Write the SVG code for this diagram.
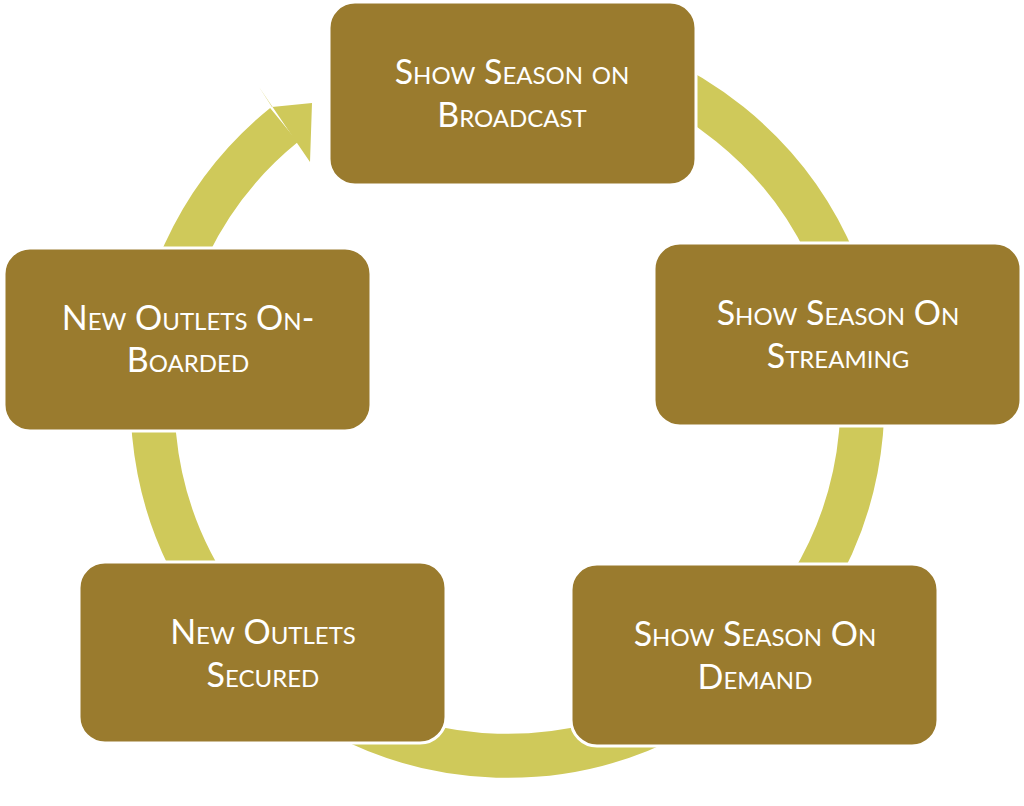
<svg xmlns="http://www.w3.org/2000/svg" width="1024" height="806" viewBox="0 0 1024 806">
<style>
.b{fill:#9a7b2e;stroke:#fff;stroke-width:3}
.t{fill:#fff;font-family:"Lato","Open Sans",sans-serif;font-size:34px;font-variant:small-caps;text-anchor:middle}
</style>
<rect width="1024" height="806" fill="#fff"/>
<g id="connectors">
<path d="M284,125 A355,355 0 1 0 400,62.5" fill="none" stroke="#cfc95a" stroke-width="44"/>
<polygon points="259,87 272,107 312,103 310,162 297,143" fill="#cfc95a"/>
</g>
<g id="n1"><rect class="b" x="329" y="2" width="367" height="183" rx="26"/><text class="t" x="512" y="84">Show Season on</text><text class="t" x="512" y="127">Broadcast</text></g>
<g id="n2"><rect class="b" x="654" y="243" width="367" height="183" rx="26"/><text class="t" x="838" y="325">Show Season On</text><text class="t" x="838" y="368">Streaming</text></g>
<g id="n3"><rect class="b" x="571" y="564" width="367" height="182" rx="26"/><text class="t" x="755" y="646">Show Season On</text><text class="t" x="755" y="689">Demand</text></g>
<g id="n4"><rect class="b" x="79" y="562" width="367" height="181" rx="26"/><text class="t" x="263" y="644">New Outlets</text><text class="t" x="263" y="687">Secured</text></g>
<g id="n5"><rect class="b" x="4" y="248" width="367" height="183" rx="26"/><text class="t" x="188" y="330">New Outlets On-</text><text class="t" x="188" y="372">Boarded</text></g>
</svg>
